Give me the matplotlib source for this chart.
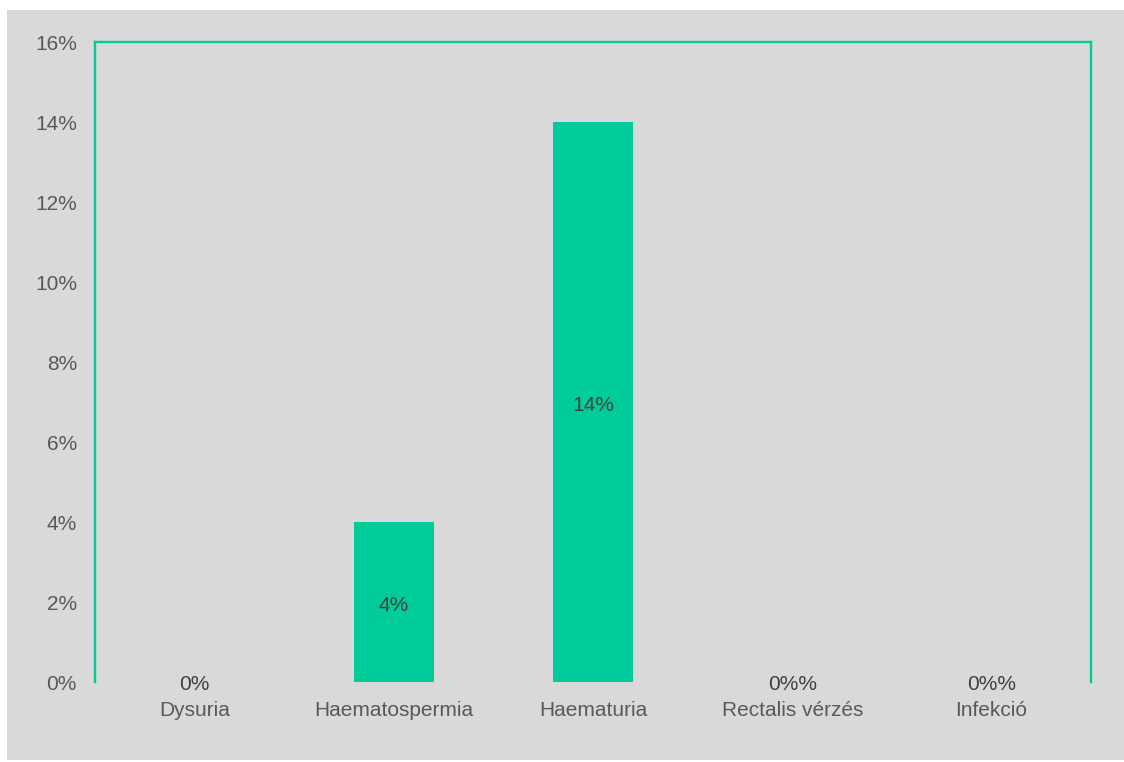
import matplotlib
matplotlib.use("Agg")
import matplotlib.pyplot as plt
from matplotlib.patches import Rectangle
from matplotlib.ticker import FuncFormatter

categories = ["Dysuria", "Haematospermia", "Haematuria", "Rectalis vérzés", "Infekció"]
values = [0, 4, 14, 0, 0]
value_labels = ["0%", "4%", "14%", "0%%", "0%%"]
yticks = [0, 2, 4, 6, 8, 10, 12, 14, 16]

plt.rcParams['font.family'] = ['Liberation Sans', 'DejaVu Sans']

W, H = 1124, 762
fig = plt.figure(figsize=(W / 100, H / 100), dpi=100)
fig.patch.set_facecolor("white")
bg = Rectangle((7 / W, (H - 760) / H), 1 - 7 / W, (760 - 10) / H, transform=fig.transFigure,
               facecolor="#d9d9d9", edgecolor="none", zorder=-10)
fig.patches.append(bg)

ax = fig.add_axes([95 / W, (H - 682) / H, (1091 - 95) / W, (682 - 42) / H])
ax.set_facecolor("none")

green = "#00cc99"
fs = 15
x = list(range(len(categories)))
ax.bar(x, values, width=0.4, color=green, zorder=2)
ax.set_xlim(-0.5, len(categories) - 0.5)
ax.set_ylim(0, 16)
ax.set_yticks(yticks)
ax.yaxis.set_major_formatter(FuncFormatter(lambda v, p: f"{int(v)}%"))
ax.set_xticks(x)
ax.set_xticklabels(categories)

for s in ["left", "right", "top"]:
    ax.spines[s].set_color(green)
    ax.spines[s].set_linewidth(1.7)
ax.spines["bottom"].set_visible(False)

ax.tick_params(axis="y", length=0, pad=13, labelsize=fs, labelcolor="#595959")
ax.tick_params(axis="x", length=0, pad=13.5, labelsize=fs, labelcolor="#595959")

for xi, v, lab in zip(x, values, value_labels):
    if v > 0:
        ax.annotate(lab, (xi, v / 2), xytext=(0, -2.5), textcoords="offset points",
                    ha="center", va="center", fontsize=fs, color="#404040", zorder=3)
    else:
        ax.annotate(lab, (xi, 0), xytext=(0, -1.5), textcoords="offset points",
                    ha="center", va="center", fontsize=fs, color="#404040")

fig.savefig("out.png", dpi=100, facecolor=fig.get_facecolor())
